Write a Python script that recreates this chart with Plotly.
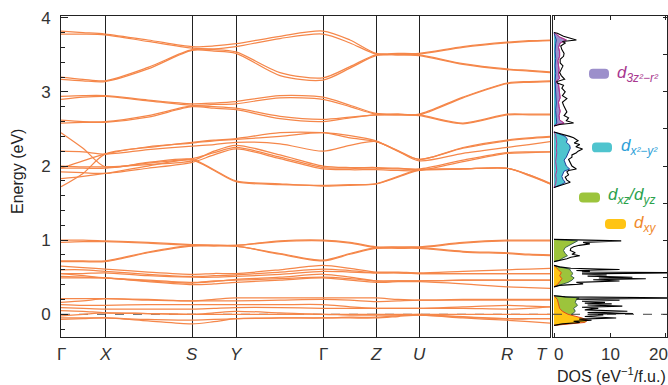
import plotly.graph_objects as go

W, H = 668, 385

# ---------------- data ----------------
K_POS = [0, 44, 131, 175, 262, 315, 358, 446, 489]
K_LABELS = ["Γ", "X", "S", "Y", "Γ", "Z", "U", "R", "T"]
K_GRID = [0, 22, 44, 87, 131, 153, 175, 219, 262, 289, 315, 337, 358, 402, 446, 468, 489]

BANDS_Z2_UPPER = [
    [3.82, 3.80, 3.78, 3.70, 3.61, 3.62, 3.65, 3.75, 3.82, 3.70, 3.52, 3.52, 3.52, 3.61, 3.67, 3.69, 3.70],
    [3.78, 3.78, 3.77, 3.68, 3.59, 3.58, 3.61, 3.72, 3.78, 3.66, 3.51, 3.51, 3.51, 3.60, 3.66, 3.68, 3.69],
    [3.20, 3.17, 3.15, 3.33, 3.57, 3.57, 3.54, 3.26, 3.19, 3.34, 3.50, 3.50, 3.50, 3.38, 3.31, 3.29, 3.27],
    [3.17, 3.15, 3.14, 3.31, 3.56, 3.55, 3.52, 3.22, 3.16, 3.32, 3.49, 3.50, 3.49, 3.37, 3.30, 3.28, 3.26],
]
BANDS_Z2_LOWER = [
    [2.94, 2.95, 2.95, 2.89, 2.84, 2.85, 2.87, 2.95, 2.93, 2.82, 2.71, 2.70, 2.70, 2.93, 3.12, 3.14, 3.15],
    [2.90, 2.93, 2.94, 2.88, 2.82, 2.83, 2.84, 2.92, 2.90, 2.80, 2.70, 2.70, 2.69, 2.92, 3.11, 3.13, 3.14],
    [2.62, 2.60, 2.60, 2.68, 2.81, 2.80, 2.78, 2.67, 2.63, 2.66, 2.69, 2.69, 2.69, 2.58, 2.70, 2.70, 2.70],
    [2.58, 2.59, 2.59, 2.66, 2.80, 2.78, 2.76, 2.64, 2.60, 2.65, 2.69, 2.69, 2.68, 2.57, 2.69, 2.69, 2.69],
]
BANDS_X2Y2 = [
    [2.45, 2.24, 1.99, 2.05, 2.09, 1.95, 1.80, 1.76, 1.73, 1.74, 1.76, 1.85, 1.94, 1.96, 1.97, 1.88, 1.76],
    [1.72, 1.90, 2.16, 2.25, 2.32, 2.35, 2.37, 2.45, 2.45, 2.41, 2.34, 2.20, 2.09, 2.24, 2.34, 2.37, 2.39],
    [2.20, 2.19, 2.16, 2.22, 2.27, 2.29, 2.32, 2.30, 2.20, 2.28, 2.33, 2.20, 2.07, 2.17, 2.25, 2.29, 2.33],
    [2.00, 1.99, 1.99, 2.02, 2.07, 2.20, 2.28, 2.15, 2.00, 1.98, 1.98, 1.97, 1.96, 2.08, 2.18, 2.19, 2.19],
    [1.97, 1.97, 1.97, 2.04, 2.10, 2.18, 2.25, 2.12, 1.98, 1.97, 1.97, 1.96, 1.95, 1.96, 1.97, 1.88, 1.77],
    [1.92, 1.91, 1.90, 1.97, 2.05, 2.15, 2.23, 2.10, 1.96, 1.95, 1.95, 1.94, 1.94, 2.06, 2.17, 2.18, 2.19],
    [1.83, 1.86, 1.90, 2.00, 2.08, 1.94, 1.79, 1.75, 1.74, 1.75, 1.76, 1.86, 1.95, 1.96, 1.97, 1.87, 1.76],
    [1.97, 2.07, 2.16, 2.26, 2.31, 2.34, 2.36, 2.40, 2.45, 2.38, 2.33, 2.21, 2.09, 2.25, 2.35, 2.38, 2.40],
]
BANDS_T2G_HIGH = [
    [1.00, 1.00, 0.99, 0.97, 0.94, 0.93, 0.93, 0.99, 1.00, 0.97, 0.91, 0.91, 0.91, 0.97, 1.00, 1.00, 1.00],
    [0.97, 0.98, 0.98, 0.96, 0.93, 0.93, 0.93, 0.98, 0.99, 0.96, 0.90, 0.90, 0.90, 0.96, 0.99, 0.99, 0.99],
    [0.72, 0.72, 0.72, 0.84, 0.93, 0.93, 0.92, 0.82, 0.73, 0.82, 0.90, 0.90, 0.90, 0.85, 0.83, 0.81, 0.80],
    [0.71, 0.71, 0.71, 0.83, 0.92, 0.92, 0.92, 0.81, 0.72, 0.81, 0.89, 0.89, 0.89, 0.84, 0.82, 0.80, 0.79],
]
BANDS_T2G_MID = [
    [0.65, 0.63, 0.61, 0.57, 0.54, 0.55, 0.55, 0.60, 0.66, 0.62, 0.57, 0.57, 0.56, 0.58, 0.60, 0.61, 0.62],
    [0.60, 0.60, 0.58, 0.54, 0.51, 0.52, 0.53, 0.57, 0.61, 0.59, 0.56, 0.56, 0.55, 0.55, 0.55, 0.55, 0.55],
    [0.55, 0.55, 0.56, 0.52, 0.50, 0.50, 0.51, 0.54, 0.58, 0.57, 0.56, 0.56, 0.55, 0.55, 0.55, 0.55, 0.55],
    [0.55, 0.52, 0.49, 0.45, 0.42, 0.44, 0.47, 0.50, 0.54, 0.50, 0.45, 0.45, 0.45, 0.46, 0.46, 0.46, 0.46],
    [0.49, 0.49, 0.49, 0.44, 0.40, 0.41, 0.43, 0.46, 0.49, 0.46, 0.43, 0.44, 0.44, 0.41, 0.37, 0.36, 0.35],
    [0.51, 0.50, 0.49, 0.46, 0.43, 0.45, 0.46, 0.48, 0.50, 0.48, 0.45, 0.45, 0.45, 0.46, 0.46, 0.46, 0.46],
]
BANDS_T2G_LOW = [
    [0.21, 0.21, 0.21, 0.20, 0.18, 0.20, 0.22, 0.22, 0.22, 0.22, 0.22, 0.20, 0.19, 0.20, 0.20, 0.20, 0.20],
    [0.16, 0.18, 0.21, 0.19, 0.18, 0.18, 0.18, 0.19, 0.20, 0.19, 0.17, 0.18, 0.19, 0.19, 0.19, 0.19, 0.19],
    [0.13, 0.12, 0.12, 0.13, 0.13, 0.13, 0.13, 0.13, 0.13, 0.10, 0.08, 0.08, 0.08, 0.10, 0.12, 0.11, 0.10],
    [0.09, 0.08, 0.07, 0.07, 0.07, 0.08, 0.09, 0.09, 0.08, 0.08, 0.08, 0.08, 0.08, 0.08, 0.07, 0.08, 0.10],
    [0.05, 0.04, 0.02, 0.01, 0.00, 0.02, 0.04, 0.02, 0.00, 0.00, 0.00, 0.00, 0.00, 0.00, 0.00, 0.00, 0.00],
    [-0.02, 0.00, 0.02, 0.01, 0.00, 0.00, 0.00, 0.00, 0.00, -0.01, -0.01, -0.01, -0.01, -0.03, -0.06, -0.06, -0.06],
    [-0.07, -0.06, -0.05, -0.09, -0.13, -0.10, -0.06, -0.05, -0.05, -0.05, -0.05, -0.03, -0.01, -0.05, -0.08, -0.10, -0.12],
    [-0.05, -0.05, -0.05, -0.07, -0.08, -0.07, -0.06, -0.05, -0.05, -0.04, -0.04, -0.02, 0.00, -0.04, -0.06, -0.06, -0.06],
]

# DOS (energy in eV, DOS in eV^-1/f.u.)
TOT_E = [-0.15, -0.13, -0.11, -0.095, -0.08, -0.065, -0.05, -0.03, -0.01, 0.0, 0.01, 0.025, 0.04, 0.06, 0.08, 0.095,
         0.11, 0.125, 0.14, 0.15, 0.16, 0.175, 0.19, 0.205, 0.22, 0.235, 0.25, None,
         0.37, 0.39, 0.41, 0.43, 0.45, 0.465, 0.48, 0.49, 0.50, 0.515, 0.53, 0.545, 0.56, 0.57, 0.58, 0.59, 0.605,
         0.62, 0.64, 0.66, None,
         0.71, 0.73, 0.75, 0.77, 0.79, 0.81, 0.83, 0.86, 0.89, 0.91, 0.93, 0.95, 0.97, 0.99, 1.0, 1.01, None,
         1.71, 1.74, 1.76, 1.78, 1.81, 1.85, 1.88, 1.92, 1.94, 1.96, 2.00, 2.05, 2.09, 2.12, 2.15, 2.18, 2.20, 2.23,
         2.26, 2.29, 2.31, 2.34, 2.38, 2.40, 2.44, 2.46, None,
         2.54, 2.56, 2.58, 2.61, 2.65, 2.68, 2.73, 2.77, 2.82, 2.86, 2.91, 2.95, 3.00, 3.05, 3.09, 3.12, 3.14, 3.17,
         3.22, 3.26, 3.31, 3.35, 3.39, 3.44, 3.48, 3.52, 3.57, 3.62, 3.66, 3.68, 3.70, 3.75, 3.79, 3.80]
TOT_V = [0, 1.5, 4.6, 3.5, 6.7, 4.5, 11.1, 5.5, 8.8, 6.0, 14.1, 6.0, 13.1, 5.5, 7.9, 5.0,
         12.2, 6.0, 10.3, 5.5, 9.1, 5.0, 11.7, 4.0, 25, 2.0, 0, None,
         0, 1.0, 5.2, 4.0, 11.7, 7.0, 16.4, 8.0, 14.0, 6.0, 9.4, 5.0, 25, 5.0, 6.4, 4.0, 11.7,
         3.0, 1.0, 0, None,
         0, 1.5, 2.3, 3.0, 4.6, 3.2, 3.8, 2.9, 3.0, 3.5, 4.5, 6.4, 5.2, 12.0, 3.0, 0, None,
         0, 1.1, 2.0, 2.9, 2.3, 2.0, 2.6, 2.3, 2.6, 4.0, 3.2, 2.9, 2.6, 3.2, 3.2, 4.0, 4.3, 5.1,
         3.9, 4.6, 3.6, 4.3, 3.5, 2.8, 1.0, 0, None,
         0, 1.0, 3.5, 2.2, 2.6, 1.8, 2.3, 2.0, 1.7, 1.5, 2.3, 1.5, 2.0, 1.4, 1.7, 0.6, 0.5, 1.9,
         1.3, 1.0, 1.4, 1.6, 1.1, 1.1, 1.7, 1.8, 1.4, 1.2, 2.0, 1.5, 4.0, 1.7, 0.6, 0]

Z2_E = [1.71, 1.76, 1.82, 1.88, 1.94, 2.00, 2.06, 2.12, 2.18, 2.24, 2.30, 2.36, 2.42, 2.46, None,
        2.54, 2.56, 2.58, 2.62, 2.68, 2.74, 2.80, 2.86, 2.92, 2.98, 3.04, 3.10, 3.14, 3.18, 3.24, 3.30,
        3.36, 3.42, 3.48, 3.54, 3.60, 3.66, 3.70, 3.74, 3.78, 3.80]
Z2_V = [0, 0.3, 0.4, 0.3, 0.5, 0.4, 0.3, 0.4, 0.5, 0.4, 0.5, 0.4, 0.3, 0, None,
        0, 0.6, 1.8, 1.0, 0.9, 1.1, 0.9, 0.8, 1.1, 1.0, 0.8, 0.8, 0.3, 1.0, 0.8, 0.9,
        0.8, 0.7, 1.0, 1.0, 0.8, 1.1, 2.2, 1.0, 0.4, 0]

X2_E = [1.71, 1.73, 1.75, 1.78, 1.82, 1.86, 1.90, 1.93, 1.96, 2.00, 2.04, 2.08, 2.12, 2.16, 2.20, 2.24,
        2.28, 2.32, 2.36, 2.40, 2.44, 2.46, None,
        2.54, 2.58, 2.65, 2.75, 2.85, 2.95, 3.05, 3.15, 3.25, 3.35, 3.45, 3.55, 3.65, 3.70, 3.75, 3.80]
X2_V = [0, 0.8, 1.3, 2.0, 1.6, 1.4, 1.6, 1.8, 2.8, 2.2, 2.0, 1.8, 2.2, 2.4, 2.6, 2.9,
        2.8, 2.2, 2.4, 2.0, 0.7, 0, None,
        0, 0.5, 0.4, 0.3, 0.4, 0.3, 0.3, 0.2, 0.3, 0.2, 0.3, 0.2, 0.3, 0.4, 0.2, 0]

XZ_E = [-0.15, -0.12, -0.08, -0.04, 0.0, 0.04, 0.08, 0.12, 0.16, 0.20, 0.22, 0.25, None,
        0.37, 0.40, 0.43, 0.46, 0.49, 0.52, 0.55, 0.58, 0.61, 0.64, 0.66, None,
        0.71, 0.73, 0.76, 0.79, 0.82, 0.86, 0.90, 0.93, 0.96, 0.99, 1.01]
XZ_V = [0, 2.0, 3.0, 3.6, 3.2, 3.8, 3.5, 4.2, 3.8, 4.0, 4.5, 0, None,
        0, 1.2, 2.5, 3.2, 3.6, 3.0, 3.4, 3.0, 2.8, 0.8, 0, None,
        0, 1.0, 1.6, 2.4, 2.0, 1.7, 2.0, 2.8, 3.5, 4.2, 0]

XY_E = [-0.15, -0.13, -0.11, -0.08, -0.05, -0.02, 0.0, 0.04, 0.08, 0.14, 0.20, 0.25, None,
        0.37, 0.40, 0.44, 0.48, 0.52, 0.56, 0.60, 0.63, 0.66]
XY_V = [0, 3.0, 5.5, 6.0, 5.0, 3.5, 2.5, 1.5, 1.0, 0.8, 0.6, 0, None,
        0, 0.6, 1.0, 1.4, 1.0, 1.3, 0.8, 0.3, 0]

E_RANGE = [-0.305, 4.026]
DOS_RANGE = [-0.18, 20.18]
E_TICKS = [0, 1, 2, 3, 4]
DOS_TICKS = [0, 10, 20]

# ---------------- styling ----------------
FONT = "Liberation Sans, Arial, sans-serif"
BAND_COLOR = "#F5874A"


def px(x):
    return x / W


def py(y):
    return 1 - y / H


fig = go.Figure()

for group in (BANDS_Z2_UPPER, BANDS_Z2_LOWER, BANDS_X2Y2, BANDS_T2G_HIGH, BANDS_T2G_MID, BANDS_T2G_LOW):
    for band in group:
        fig.add_trace(go.Scatter(
            x=K_GRID, y=band, mode="lines", xaxis="x", yaxis="y",
            line=dict(color=BAND_COLOR, width=1.25, shape="spline", smoothing=0.8),
            hoverinfo="skip", showlegend=False))


def dos_trace(v, e, fillcolor, linecolor, width=1.0, fill="tozerox"):
    return go.Scatter(x=v, y=e, mode="lines", xaxis="x2", yaxis="y2",
                      fill=fill, fillcolor=fillcolor,
                      line=dict(color=linecolor, width=width),
                      hoverinfo="skip", showlegend=False)


fig.add_trace(dos_trace(Z2_V, Z2_E, "#9C8FCB", "#B03C93"))
fig.add_trace(dos_trace(X2_V, X2_E, "#4FC4CE", "#1F3E9C"))
fig.add_trace(dos_trace(Z2_V, Z2_E, "rgba(0,0,0,0)", "#B03C93", fill="none"))
fig.add_trace(dos_trace(XZ_V, XZ_E, "#9CC43C", "#3A6150"))
fig.add_trace(dos_trace(XY_V, XY_E, "#FFC414", "#E0471B"))
fig.add_trace(dos_trace(TOT_V, TOT_E, "rgba(0,0,0,0)", "black", width=1.1, fill="none"))

ydom = [py(336), py(9)]
fig.update_layout(
    width=W, height=H,
    margin=dict(l=0, r=0, t=0, b=0),
    paper_bgcolor="white", plot_bgcolor="white",
    font=dict(family=FONT, size=16, color="#222"),
    xaxis=dict(domain=[px(61), px(550)], range=[K_POS[0], K_POS[-1]], tickvals=K_POS,
               showticklabels=False, ticks="", showgrid=True, gridcolor="#222", gridwidth=1,
               showline=True, linecolor="#222", linewidth=1, mirror=True, zeroline=False,
               anchor="y"),
    yaxis=dict(domain=ydom, range=E_RANGE, tickvals=E_TICKS, ticks="inside", ticklen=7,
               tickcolor="#222", tickwidth=1, showgrid=False, zeroline=False,
               showline=True, linecolor="#222", linewidth=1, mirror=True,
               tickfont=dict(size=17, color="#333"), ticklabelstandoff=6,
               minor=dict(dtick=0.2, ticks="inside", ticklen=4, tickcolor="#222", showgrid=False),
               anchor="x"),
    xaxis2=dict(domain=[px(553), px(667)], range=DOS_RANGE, tickvals=DOS_TICKS, ticks="inside",
                ticklen=4, tickcolor="#222", showticklabels=False, showgrid=False, zeroline=False,
                showline=True, linecolor="#222", linewidth=1, mirror="ticks", anchor="y2"),
    yaxis2=dict(domain=ydom, range=E_RANGE, matches="y", side="right", anchor="x2",
                tickvals=[0, 0.5, 1, 1.5, 2, 2.5, 3, 3.5, 4], ticks="inside", ticklen=4,
                tickcolor="#222", showticklabels=False, showgrid=False, zeroline=False,
                showline=True, linecolor="#222", linewidth=1, mirror=True),
)

shapes = [
    dict(type="line", xref="paper", yref="y", x0=px(61), x1=px(550), y0=0, y1=0,
         line=dict(color="#555", width=1, dash="dash"), layer="between"),
    dict(type="line", xref="paper", yref="y", x0=px(553), x1=px(667), y0=0, y1=0,
         line=dict(color="#444", width=1, dash="dash"), layer="above"),
]


def rrect(x0, y0, x1, y1, r=4):
    p = (f"M {px(x0 + r)},{py(y0)} L {px(x1 - r)},{py(y0)} Q {px(x1)},{py(y0)} {px(x1)},{py(y0 + r)} "
         f"L {px(x1)},{py(y1 - r)} Q {px(x1)},{py(y1)} {px(x1 - r)},{py(y1)} "
         f"L {px(x0 + r)},{py(y1)} Q {px(x0)},{py(y1)} {px(x0)},{py(y1 - r)} "
         f"L {px(x0)},{py(y0 + r)} Q {px(x0)},{py(y0)} {px(x0 + r)},{py(y0)} Z")
    return p


LEGEND = [
    (589, 63, 609, 73, "#9C8FCB", 615, 68, "<i>d</i><sub><i>3z²−r²</i></sub>", "#A8378F"),
    (592, 138, 612, 148, "#4FC4CE", 619, 143, "<i>d</i><sub><i>x²−y²</i></sub>", "#2E9FD8"),
    (579, 189, 600, 199, "#9CC43C", 606, 193,
     "<i>d</i><sub><i>xz</i></sub><i>/d</i><sub><i>yz</i></sub>", "#2BA24C"),
    (605, 216, 626, 226, "#FFC414", 632, 221, "<i>d</i><sub><i>xy</i></sub>", "#F08A2C"),
]
annotations = []
for x0, y0, x1, y1, c, tx, ty, txt, tc in LEGEND:
    shapes.append(dict(type="path", xref="paper", yref="paper", path=rrect(x0, y0, x1, y1),
                       fillcolor=c, line=dict(width=0), layer="above"))
    annotations.append(dict(x=px(tx), y=py(ty), xref="paper", yref="paper", text=txt,
                            showarrow=False, xanchor="left", yanchor="middle",
                            font=dict(size=17, color=tc, family=FONT)))

for k, lab in zip(K_POS, K_LABELS):
    t = lab if lab == "Γ" else f"<i>{lab}</i>"
    annotations.append(dict(x=k, xref="x", y=py(354), yref="paper", text=t, showarrow=False,
                            xanchor="center", yanchor="middle", xshift=(-8 if lab == "T" else 0),
                            font=dict(size=17, color="#333", family=FONT)))

for val, xpix in zip(DOS_TICKS, [558, 610, 658]):
    annotations.append(dict(x=px(xpix), y=py(354), xref="paper", yref="paper", text=str(val),
                            showarrow=False, xanchor="center", yanchor="middle",
                            font=dict(size=17, color="#333", family=FONT)))

annotations.append(dict(x=px(18), y=py(168), xref="paper", yref="paper", text="Energy (eV)",
                        textangle=-90, showarrow=False, xanchor="center", yanchor="middle",
                        font=dict(size=16, color="#222", family=FONT)))
annotations.append(dict(x=px(611), y=py(375), xref="paper", yref="paper",
                        text="DOS (eV<sup>−1</sup>/f.u.)", showarrow=False,
                        xanchor="center", yanchor="middle",
                        font=dict(size=16, color="#222", family=FONT)))

fig.update_layout(shapes=shapes, annotations=annotations)
fig.write_html("out.html", config={"displayModeBar": False},
               post_script="document.body.style.margin='0px';document.body.style.padding='0px';")
